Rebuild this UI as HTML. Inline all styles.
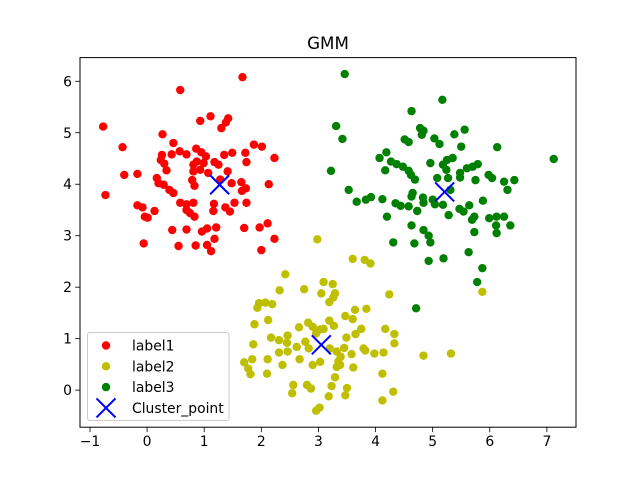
<!DOCTYPE html>
<html><head><meta charset="utf-8"><style>
body{margin:0;background:#fff;}
svg{display:block;font-family:"DejaVu Sans","Liberation Sans",sans-serif;}
</style></head><body>
<svg id="chart" width="640" height="480" viewBox="0 0 640 480">
<rect x="0" y="0" width="640" height="480" fill="#fff"/>
<text x="328" y="49" font-size="16.7" text-anchor="middle">GMM</text>
<g id="marks"></g>
<g id="axes"></g>
<g id="legend"></g>
</svg>
<script>
const xTicks=[-1,0,1,2,3,4,5,6,7];
const yTicks=[0,1,2,3,4,5,6];
const label1X=[1.67,0.58,-0.77,1.11,0.93,1.42,1.38,1.30,-0.43,0.27,0.46,0.26,0.43,0.57,0.69,0.86,0.95,1.03,0.87,0.99,0.81,1.18,1.25,1.35,1.49,1.72,1.87,2.01,2.23,1.74,0.24,0.30,-0.40,-0.17,0.34,0.81,0.93,1.07,0.17,0.20,0.79,0.83,1.28,1.41,1.48,1.65,1.73,1.66,2.13,0.29,0.39,0.46,-0.73,-0.17,-0.08,0.13,-0.04,0.01,0.58,0.69,0.81,0.69,0.75,0.83,1.17,1.16,1.37,1.45,1.53,1.74,0.44,0.69,0.96,1.05,1.21,1.70,1.97,2.11,2.23,-0.06,0.55,0.85,1.05,1.18,1.12,2.00];
const label1Y=[6.08,5.83,5.12,5.32,5.23,5.28,5.20,5.09,4.72,4.97,4.80,4.57,4.58,4.64,4.58,4.69,4.62,4.54,4.44,4.41,4.38,4.43,4.38,4.57,4.61,4.61,4.77,4.73,4.51,4.43,4.47,4.40,4.18,4.20,4.27,4.25,4.28,4.22,4.12,4.02,4.08,3.97,4.09,4.25,4.02,4.04,3.92,3.87,4.00,3.99,3.89,3.83,3.79,3.59,3.55,3.48,3.37,3.35,3.64,3.61,3.64,3.50,3.44,3.37,3.62,3.48,3.55,3.47,3.64,3.64,3.11,3.12,3.08,3.14,3.16,3.15,3.16,3.24,2.94,2.85,2.80,2.81,2.82,2.94,2.70,2.72];
const label2X=[2.98,3.60,3.81,3.91,2.42,3.09,3.25,2.75,2.32,3.05,3.29,3.26,3.19,4.24,1.96,2.07,2.19,1.93,1.88,2.12,2.82,2.90,2.66,3.09,3.19,3.27,3.47,3.64,3.60,3.84,3.75,3.65,3.49,4.17,4.33,4.33,2.17,2.31,2.46,2.45,1.86,2.62,2.77,3.03,2.96,2.83,3.20,3.32,3.45,3.58,3.39,3.79,3.82,3.98,4.14,4.84,5.32,2.31,2.46,1.70,1.84,2.11,2.67,3.03,2.90,3.35,3.38,3.32,3.61,2.37,1.77,1.81,2.10,4.12,3.29,2.56,2.80,2.87,3.23,3.50,2.54,3.18,3.47,4.31,4.12,3.02,2.96,5.87];
const label2Y=[2.93,2.55,2.53,2.46,2.25,2.10,2.06,1.96,1.94,1.88,1.88,1.80,1.71,1.86,1.69,1.70,1.67,1.60,1.28,1.36,1.31,1.23,1.22,1.19,1.35,1.25,1.44,1.56,1.38,1.58,1.19,1.09,1.02,1.19,1.09,0.91,1.02,0.97,1.06,0.92,0.89,0.84,0.94,1.18,1.10,0.81,0.81,0.75,0.82,0.70,0.65,0.81,0.77,0.71,0.73,0.67,0.71,0.73,0.75,0.54,0.60,0.60,0.60,0.55,0.49,0.56,0.49,0.45,0.44,0.49,0.42,0.31,0.32,0.32,0.25,0.10,0.10,0.03,0.08,0.04,-0.06,-0.12,-0.10,-0.03,-0.20,-0.34,-0.40,1.91];
const label3X=[3.46,5.17,4.63,3.31,3.42,4.78,4.84,4.81,5.56,5.38,4.51,4.58,5.03,5.12,5.50,6.13,7.12,4.19,4.07,4.27,4.37,4.48,4.17,4.58,4.62,4.69,4.96,5.25,5.35,5.18,5.24,5.08,5.27,5.48,5.60,5.70,5.79,5.48,5.75,5.98,6.04,6.25,6.43,6.31,3.22,3.53,3.67,3.83,3.92,4.12,4.65,4.63,4.83,4.84,5.00,5.04,5.18,5.31,4.35,4.44,4.58,4.73,4.20,4.63,5.28,5.47,5.54,5.64,5.73,5.69,5.88,5.99,6.12,6.25,6.11,6.12,6.36,5.73,4.84,4.93,4.96,4.68,4.31,5.63,5.19,4.93,5.87,5.78,4.71];
const label3Y=[6.14,5.64,5.42,5.13,4.88,5.09,5.04,4.96,5.06,4.97,4.87,4.82,4.89,4.78,4.73,4.72,4.49,4.62,4.51,4.44,4.39,4.34,4.27,4.26,4.18,4.09,4.41,4.47,4.51,4.38,4.28,4.12,4.12,4.22,4.31,4.34,4.39,4.13,4.08,4.18,4.12,4.05,4.08,3.89,4.26,3.89,3.66,3.70,3.75,3.71,3.83,3.76,3.74,3.64,3.70,3.61,3.60,3.89,3.63,3.58,3.57,3.48,3.37,3.20,3.40,3.52,3.47,3.59,3.37,3.31,3.68,3.34,3.37,3.37,3.20,3.05,3.20,3.07,3.11,3.00,2.87,2.85,2.87,2.68,2.56,2.51,2.37,2.10,1.59];
const centerX=[1.27,5.21,3.05];
const centerY=[3.99,3.85,0.88];

const NS="http://www.w3.org/2000/svg";
const L=80,R=576,T=57.6,B=427.2;
const xMin=-1.175,xMax=7.51,yMin=-0.72,yMax=6.46;
function sx(v){return L+(v-xMin)/(xMax-xMin)*(R-L);}
function sy(v){return B-(v-yMin)/(yMax-yMin)*(B-T);}
function mk(tag,attrs,parent){const e=document.createElementNS(NS,tag);for(const k in attrs)e.setAttribute(k,attrs[k]);parent.appendChild(e);return e;}
const marks=document.getElementById('marks');
function drawSeries(xs,ys,color,name){
  for(let i=0;i<xs.length;i++){
    const c=mk('circle',{cx:sx(xs[i]),cy:sy(ys[i]),r:4.2,fill:color},marks);
    
    
  }
}
drawSeries(label1X,label1Y,'#ff0000','label1');
drawSeries(label2X,label2Y,'#bfbf00','label2');
drawSeries(label3X,label3Y,'#008000','label3');
function drawX(cx,cy,h,parent){
  const g=mk('g',{stroke:'#0000ff','stroke-width':2},parent);
  mk('line',{x1:cx-h,y1:cy-h,x2:cx+h,y2:cy+h},g);
  mk('line',{x1:cx-h,y1:cy+h,x2:cx+h,y2:cy-h},g);
  return g;
}
for(let i=0;i<centerX.length;i++){
  const g=drawX(sx(centerX[i]),sy(centerY[i]),9.5,marks);
  
  
}
const axes=document.getElementById('axes');
const frame=mk('rect',{x:L,y:T,width:R-L,height:B-T,fill:'none',stroke:'#000','stroke-width':1},axes);


xTicks.forEach(t=>{
  const x=sx(t);
  mk('line',{x1:x,y1:B,x2:x,y2:B+4.9,stroke:'#000','stroke-width':0.8},axes);
  const tx=mk('text',{x:x,y:B+19,'font-size':13.9,'text-anchor':'middle'},axes);
  tx.textContent=t<0?'\u2212'+Math.abs(t):String(t);
  
  
});
yTicks.forEach(t=>{
  const y=sy(t);
  mk('line',{x1:L-4.9,y1:y,x2:L,y2:y,stroke:'#000','stroke-width':0.8},axes);
  const tx=mk('text',{x:L-8,y:y+5,'font-size':13.9,'text-anchor':'end'},axes);
  tx.textContent=String(t);
  
  
});
const lg=document.getElementById('legend');
mk('rect',{x:87.5,y:332.5,width:141.5,height:88,rx:2.5,fill:'#fff','fill-opacity':0.8,stroke:'#cccccc','stroke-width':1},lg);
const entries=[['label1','#ff0000'],['label2','#bfbf00'],['label3','#008000'],['Cluster_point',null]];
entries.forEach((e,i)=>{
  const y=345.5+i*20.8;
  const g=mk('g',{},lg);
  
  
  if(e[1]) mk('circle',{cx:106,cy:y,r:4.2,fill:e[1]},g);
  else drawX(106,y,9.5,g);
  const t=mk('text',{x:132,y:y+5,'font-size':13.9},g);
  t.textContent=e[0];
});
</script>
</body></html>
